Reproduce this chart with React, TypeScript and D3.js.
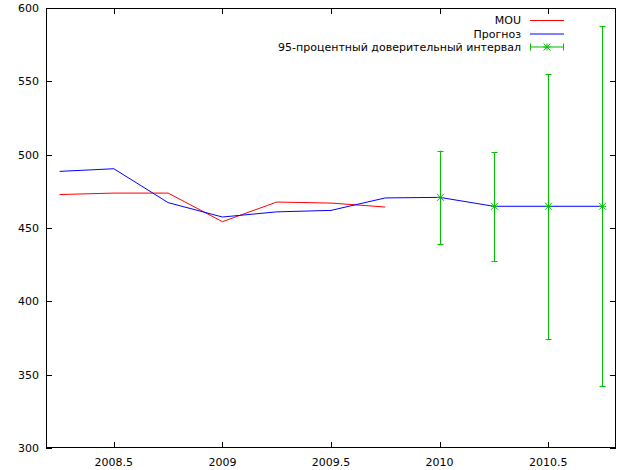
import React from "react";
import * as d3 from "d3";

const mouX = [2008.25, 2008.5, 2008.75, 2009, 2009.25, 2009.5, 2009.75];
const mouY = [472.8, 473.8, 473.8, 454.3, 467.7, 467.0, 464.3];
const fcX = [2008.25, 2008.5, 2008.75, 2009, 2009.25, 2009.5, 2009.75, 2010, 2010.25, 2010.5, 2010.75];
const fcY = [488.6, 490.4, 467.3, 457.5, 461.0, 462.0, 470.5, 470.9, 464.8, 464.8, 464.8];
const ciX = [2010, 2010.25, 2010.5, 2010.75];
const ciY = [470.9, 464.8, 464.8, 464.8];
const ciLow = [438.9, 427.5, 374.0, 342.0];
const ciHigh = [502.7, 501.6, 555.0, 587.7];
const xTicks = [2008.5, 2009, 2009.5, 2010, 2010.5];
const xTickLabels = ["2008.5", "2009", "2009.5", "2010", "2010.5"];
const yTicks = [300, 350, 400, 450, 500, 550, 600];
const legendLabels = ["MOU", "Прогноз", "95-процентный доверительный интервал"];

const W = 624, H = 470;
const L = 46, R = 616, T = 8, B = 448;
const RED = "#ff0000", BLUE = "#0000ff", GREEN = "#00c000";
const FONT = "DejaVu Sans, Verdana, sans-serif";

function Star({ x, y, s = 3.5 }: { x: number; y: number; s?: number }) {
  return (
    <g stroke={GREEN} strokeWidth={1}>
      <line x1={x - s} y1={y} x2={x + s} y2={y} />
      <line x1={x} y1={y - s} x2={x} y2={y + s} />
      <line x1={x - s} y1={y - s} x2={x + s} y2={y + s} />
      <line x1={x - s} y1={y + s} x2={x + s} y2={y - s} />
    </g>
  );
}

export default function App() {
  const x = d3.scaleLinear().domain([2008.1875, 2010.8125]).range([L, R]);
  const y = d3.scaleLinear().domain([300, 600]).range([B, T]);
  const line = d3
    .line<[number, number]>()
    .x((d) => x(d[0]))
    .y((d) => y(d[1]));
  const mouPts = mouX.map((v, i) => [v, mouY[i]] as [number, number]);
  const fcPts = fcX.map((v, i) => [v, fcY[i]] as [number, number]);
  const tl = 6;
  const legY = [20, 33.5, 46.5];
  const lx1 = 530, lx2 = 564, ltx = 521;
  return (
    <svg
      width={W}
      height={H}
      style={{ position: "absolute", left: 0, top: 0, background: "#fff" }}
      fontFamily={FONT}
      fontSize={11}
    >
      <rect x={0} y={0} width={W} height={H} fill="#fff" />
      {/* ticks */}
      <g stroke="#000" strokeWidth={1}>
        {yTicks.map((t) => (
          <g key={"y" + t}>
            <line x1={L} x2={L + tl} y1={Math.round(y(t)) + 0.5} y2={Math.round(y(t)) + 0.5} />
            <line x1={R} x2={R - tl} y1={Math.round(y(t)) + 0.5} y2={Math.round(y(t)) + 0.5} />
          </g>
        ))}
        {xTicks.map((t) => (
          <g key={"x" + t}>
            <line x1={Math.round(x(t)) + 0.5} x2={Math.round(x(t)) + 0.5} y1={B} y2={B - tl} />
            <line x1={Math.round(x(t)) + 0.5} x2={Math.round(x(t)) + 0.5} y1={T} y2={T + tl} />
          </g>
        ))}
      </g>
      {/* tick labels */}
      <g fill="#000">
        {yTicks.map((t) => (
          <text key={"yl" + t} x={L - 7} y={y(t) + 4} textAnchor="end">
            {t}
          </text>
        ))}
        {xTicks.map((t, i) => (
          <text key={"xl" + t} x={x(t)} y={B + 18} textAnchor="middle">
            {xTickLabels[i]}
          </text>
        ))}
      </g>
      {/* data */}
      <path d={line(mouPts) || ""} fill="none" stroke={RED} strokeWidth={1} />
      <path d={line(fcPts) || ""} fill="none" stroke={BLUE} strokeWidth={1} />
      {ciX.map((v, i) => {
        const cx = Math.round(x(v)) + 0.5;
        return (
          <g key={"ci" + i}>
            <g stroke={GREEN} strokeWidth={1}>
              <line x1={cx} x2={cx} y1={y(ciLow[i])} y2={y(ciHigh[i])} />
              <line x1={cx - 3} x2={cx + 3} y1={Math.round(y(ciLow[i])) + 0.5} y2={Math.round(y(ciLow[i])) + 0.5} />
              <line x1={cx - 3} x2={cx + 3} y1={Math.round(y(ciHigh[i])) + 0.5} y2={Math.round(y(ciHigh[i])) + 0.5} />
            </g>
            <Star x={cx} y={y(ciY[i])} />
          </g>
        );
      })}
      {/* legend */}
      <g>
        {legendLabels.map((lab, i) => (
          <text key={"lg" + i} x={ltx} y={legY[i] + 4} textAnchor="end" fill="#000">
            {lab}
          </text>
        ))}
        <line x1={lx1} x2={lx2} y1={legY[0] + 0.5} y2={legY[0] + 0.5} stroke={RED} />
        <line x1={lx1} x2={lx2} y1={legY[1] + 0.5} y2={legY[1] + 0.5} stroke={BLUE} />
        <g stroke={GREEN}>
          <line x1={lx1} x2={lx2} y1={legY[2] + 0.5} y2={legY[2] + 0.5} />
          <line x1={lx1 + 0.5} x2={lx1 + 0.5} y1={legY[2] - 3} y2={legY[2] + 4} />
          <line x1={lx2 - 0.5} x2={lx2 - 0.5} y1={legY[2] - 3} y2={legY[2] + 4} />
        </g>
        <Star x={(lx1 + lx2) / 2} y={legY[2] + 0.5} />
      </g>
      {/* border */}
      <rect x={L + 0.5} y={T + 0.5} width={R - L - 1} height={B - T - 1} fill="none" stroke="#000" strokeWidth={1} />
    </svg>
  );
}
